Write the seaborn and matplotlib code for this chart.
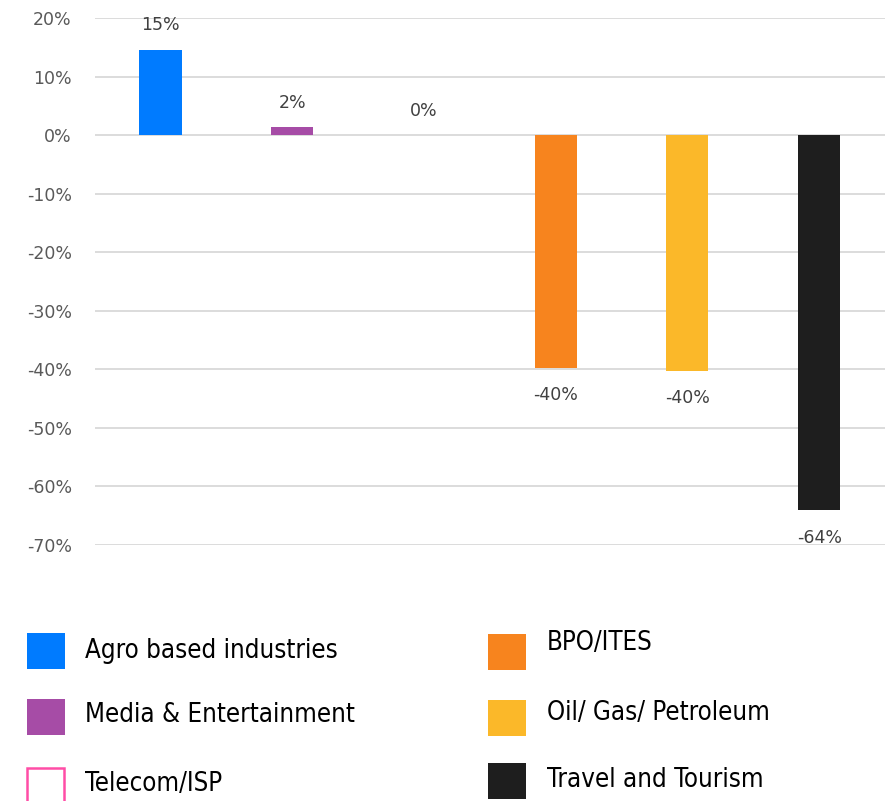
import numpy as np
import pandas as pd
import matplotlib
matplotlib.use("Agg")
import matplotlib.pyplot as plt
import seaborn as sns
from matplotlib.patches import Rectangle

# data
sectors = [
    "Agro based industries",
    "Media & Entertainment",
    "Telecom/ISP",
    "BPO/ITES",
    "Oil/ Gas/ Petroleum",
    "Travel and Tourism",
]
growth = [14.6, 1.4, 0.0, -39.8, -40.3, -64.1]
growth_labels = ["15%", "2%", "0%", "-40%", "-40%", "-64%"]
colors = ["#007BFF", "#A64CA6", "#FF4DA6", "#F7841E", "#FBB829", "#1E1E1E"]
yticks = [20, 10, 0, -10, -20, -30, -40, -50, -60, -70]

df = pd.DataFrame({"sector": sectors, "growth": growth})

sns.set_style("white")
plt.rcParams["font.family"] = ["DejaVu Sans"]

fig = plt.figure(figsize=(8.85, 8.01), dpi=100)
ax = fig.add_axes([0.107, 0.3196, 0.893, 0.658])

sns.barplot(
    data=df, x="sector", y="growth", hue="sector", palette=colors,
    dodge=False, width=0.32, legend=False, ax=ax, saturation=1, linewidth=0,
)

ax.set_ylim(-70, 20)
ax.set_xlim(-0.5, 5.5)
ax.set_yticks(yticks)
ax.set_yticklabels([f"{t}%" for t in yticks])
ax.set_xticks([])
ax.set_xlabel("")
ax.set_ylabel("")
for s in ax.spines.values():
    s.set_visible(False)
ax.yaxis.grid(True, color="#D9D9D9", linewidth=1.3)
ax.set_axisbelow(True)
ax.tick_params(axis="y", length=0, labelsize=12.5, labelcolor="#595959", pad=16.5)

# value labels, offset from bar end
for i, (v, lab) in enumerate(zip(growth, growth_labels)):
    dy = 17.5 if v >= 0 else -19.5
    ax.annotate(lab, (i, v), xytext=(0, dy), textcoords="offset points",
                ha="center", va="center", fontsize=12.5, color="#404040")

# legend drawn by hand, 2 columns x 3 rows
W, H = 885.0, 801.0
leg_cols = [(27, 85), (488, 547)]
patch_tops = [[633, 699, 768], [634, 700, 763]]
text_ys = [[651, 715, 784], [643, 713, 780]]
order = [[0, 1, 2], [3, 4, 5]]
for c, (px, tx) in enumerate(leg_cols):
    for r, idx in enumerate(order[c]):
        top = patch_tops[c][r]
        if sectors[idx] == "Telecom/ISP":
            rect = Rectangle((px / W, 1 - (top + 36) / H), 37 / W, 36 / H,
                             transform=fig.transFigure, facecolor="white",
                             edgecolor=colors[idx], linewidth=1.8)
        else:
            rect = Rectangle((px / W, 1 - (top + 36) / H), 38 / W, 36 / H,
                             transform=fig.transFigure, facecolor=colors[idx],
                             edgecolor="none")
        fig.add_artist(rect)
        fig.text(tx / W, 1 - text_ys[c][r] / H, sectors[idx], ha="left", va="center",
                 fontsize=18.5, color="black", stretch="condensed")

fig.savefig("out.png", dpi=100)
